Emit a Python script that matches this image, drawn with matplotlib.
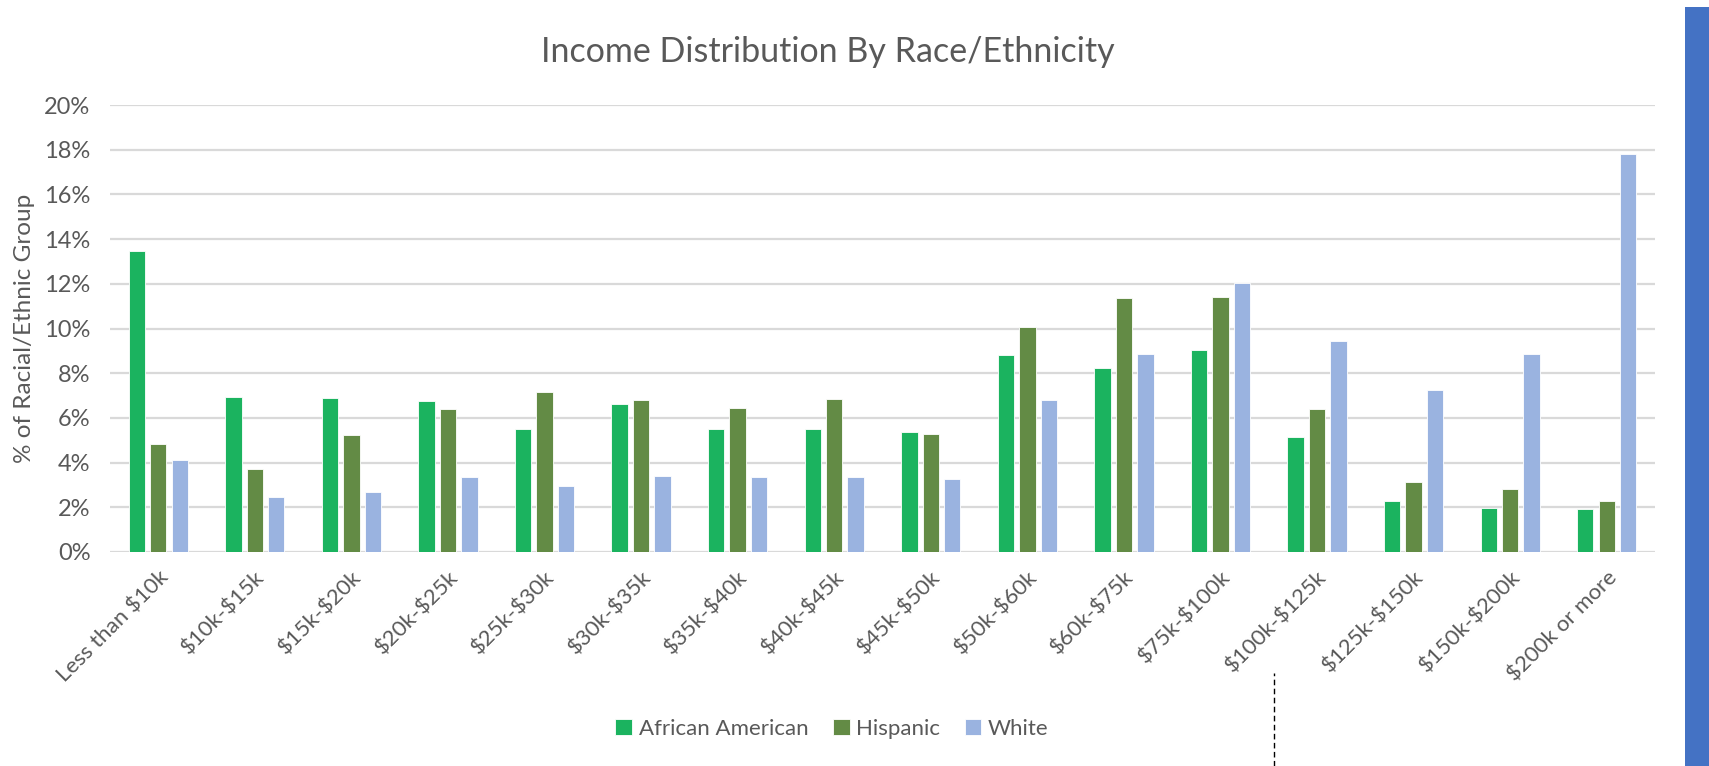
import matplotlib
matplotlib.use("Agg")
import matplotlib.pyplot as plt
import numpy as np
from matplotlib.lines import Line2D
from matplotlib.patches import Rectangle

categories = ["Less than $10k", "$10k-$15k", "$15k-$20k", "$20k-$25k", "$25k-$30k",
              "$30k-$35k", "$35k-$40k", "$40k-$45k", "$45k-$50k", "$50k-$60k",
              "$60k-$75k", "$75k-$100k", "$100k-$125k", "$125k-$150k", "$150k-$200k",
              "$200k or more"]
african_american = [13.47, 6.92, 6.89, 6.74, 5.52, 6.61, 5.49, 5.49, 5.38, 8.81,
                    8.25, 9.02, 5.14, 2.27, 1.97, 1.91]
hispanic = [4.82, 3.71, 5.22, 6.38, 7.15, 6.79, 6.46, 6.83, 5.26, 10.05,
            11.35, 11.41, 6.38, 3.15, 2.81, 2.27]
white = [4.10, 2.45, 2.68, 3.36, 2.95, 3.39, 3.36, 3.37, 3.27, 6.80,
         8.87, 12.05, 9.44, 7.26, 8.87, 17.80]
series_names = ["African American", "Hispanic", "White"]
colors = ["#1bb35f", "#638b45", "#9ab3e0"]
yticks = [0, 2, 4, 6, 8, 10, 12, 14, 16, 18, 20]

FONT = ["Lato", "DejaVu Sans"]
TXT = "#595959"
plt.rcParams['font.family'] = FONT
plt.rcParams['text.parse_math'] = False

W, H = 1709, 766
fig = plt.figure(figsize=(W / 100, H / 100), dpi=100)
ax = fig.add_axes([110 / W, 1 - 552 / H, (1655 - 110) / W, (552 - 105) / H])

x = np.arange(len(categories))
bw = 0.17
step = 0.222
for i, (vals, name, c) in enumerate(zip([african_american, hispanic, white], series_names, colors)):
    ax.bar(x + (i - 1) * step, vals, width=bw, color=c, label=name,
           edgecolor="white", linewidth=0.6, zorder=3)

ax.set_xlim(-0.5, len(categories) - 0.5)
ax.set_ylim(0, 20)
ax.set_yticks(yticks)
ax.set_yticklabels([f"{t}%" for t in yticks])
ax.yaxis.grid(True, color="#d9d9d9", linewidth=1.6, zorder=0)
ax.set_axisbelow(True)
for s in ax.spines.values():
    s.set_visible(False)
ax.tick_params(axis="y", length=0, colors=TXT, labelsize=17, pad=14)
ax.set_xticks(x)
ax.set_xticklabels(categories, rotation=45, ha="right", rotation_mode="anchor")
ax.tick_params(axis="x", length=0, colors=TXT, labelsize=16, pad=11)

fig.text(25 / W, 1 - 328 / H, "% of Racial/Ethnic Group", rotation=90,
         ha="center", va="center", fontsize=17.5, color=TXT)
fig.text(828 / W, 1 - 52 / H, "Income Distribution By Race/Ethnicity",
         ha="center", va="center", fontsize=24.5, color=TXT)

leg = fig.legend(loc="center", bbox_to_anchor=(832 / W, 1 - 729 / H), ncol=3,
                 frameon=False, fontsize=16, handlelength=0.75, handleheight=0.75,
                 handletextpad=0.3, columnspacing=1.1)
for t in leg.get_texts():
    t.set_color(TXT)

# dashed marker line and right-edge band
fig.add_artist(Line2D([1274 / W, 1274 / W], [0, 1 - 673 / H], color="black",
                      linewidth=1.0, linestyle=(0, (4, 2.5)), transform=fig.transFigure))
fig.add_artist(Rectangle((1685 / W, 0), 24 / W, 1 - 7 / H, transform=fig.transFigure,
                         facecolor="#4472c4", edgecolor="none"))

fig.savefig("out.png", dpi=100)
